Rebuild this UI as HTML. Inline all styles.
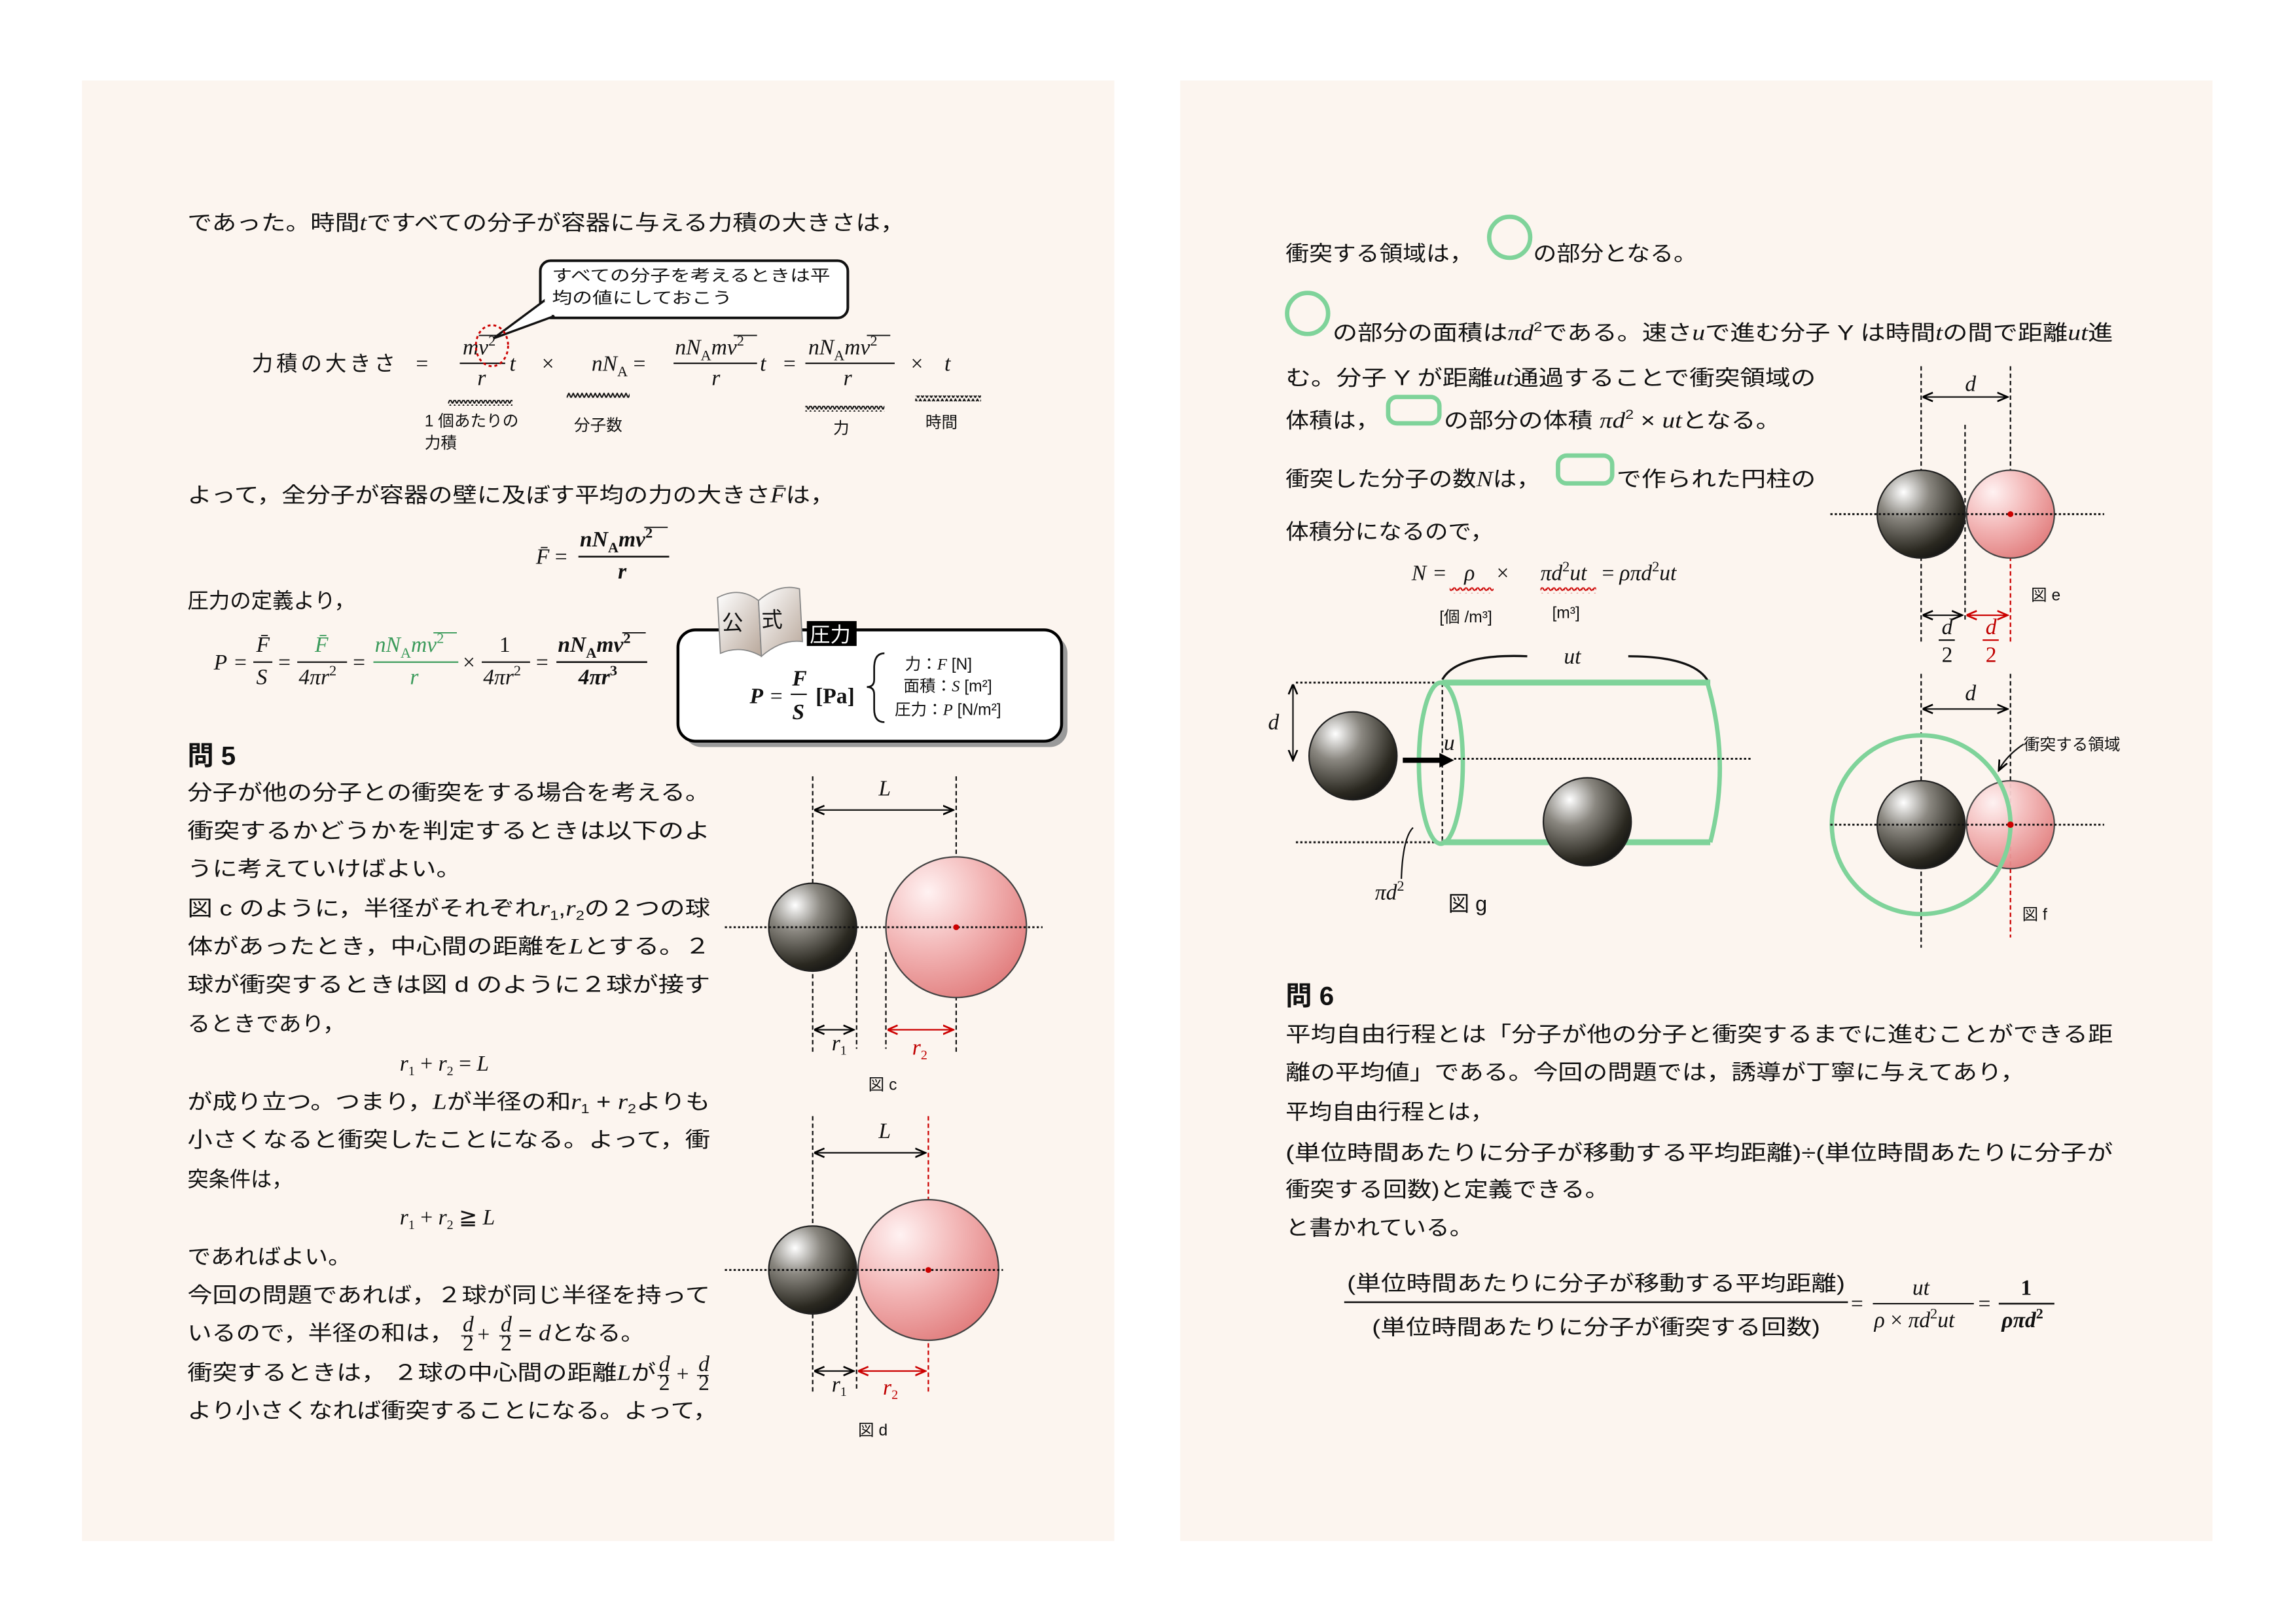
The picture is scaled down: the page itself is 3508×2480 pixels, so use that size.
<!DOCTYPE html>
<html><head><meta charset="utf-8"><style>
html,body{margin:0;padding:0;background:#fff;}
svg{display:block}
.j{font-family:"Liberation Sans","Noto Sans CJK JP",sans-serif;font-size:14.5px;fill:#111}
.s{font-family:"Liberation Sans","Noto Sans CJK JP",sans-serif;font-size:11px;fill:#111}
.m{font-family:"Liberation Serif",serif;font-style:italic;font-size:15px;fill:#111}
.mr{font-family:"Liberation Serif",serif;font-size:15px;fill:#111}
.b{font-weight:bold}
.g{fill:#3a9a5a}
.r{fill:#c00000}
.n{font-style:normal}
.h{font-family:"Liberation Sans","Noto Sans CJK JP",sans-serif;font-size:18px;font-weight:bold;fill:#111}
</style></head><body>
<svg width="3508" height="2480" viewBox="0 0 1568 1108" preserveAspectRatio="none" xmlns="http://www.w3.org/2000/svg" xml:space="preserve">
<defs>
<radialGradient id="dk" cx="0.3" cy="0.25" r="0.85">
<stop offset="0" stop-color="#ffffff"/><stop offset="0.35" stop-color="#8a8780"/><stop offset="0.8" stop-color="#2a2820"/><stop offset="1" stop-color="#111"/></radialGradient>
<radialGradient id="pk" cx="0.3" cy="0.25" r="0.85">
<stop offset="0" stop-color="#fff2f2"/><stop offset="0.5" stop-color="#f2b4b4"/><stop offset="1" stop-color="#e07a7a"/></radialGradient>
<linearGradient id="bk" x1="0" y1="0" x2="1" y2="1"><stop offset="0" stop-color="#fff"/><stop offset="1" stop-color="#b8a79a"/></linearGradient>
<marker id="a" markerWidth="8" markerHeight="8" refX="7" refY="4" orient="auto" markerUnits="userSpaceOnUse"><path d="M0,1 L7,4 L0,7" fill="none" stroke="#000" stroke-width="1.2"/></marker>
<marker id="ar" markerWidth="8" markerHeight="8" refX="7" refY="4" orient="auto" markerUnits="userSpaceOnUse"><path d="M0,1 L7,4 L0,7" fill="none" stroke="#c00" stroke-width="1.2"/></marker>
<marker id="as" markerWidth="8" markerHeight="8" refX="1" refY="4" orient="auto" markerUnits="userSpaceOnUse"><path d="M7,1 L0,4 L7,7" fill="none" stroke="#000" stroke-width="1.2"/></marker>
<marker id="asr" markerWidth="8" markerHeight="8" refX="1" refY="4" orient="auto" markerUnits="userSpaceOnUse"><path d="M7,1 L0,4 L7,7" fill="none" stroke="#c00" stroke-width="1.2"/></marker>
<pattern id="wv" width="3" height="4" patternUnits="userSpaceOnUse"><path d="M0,3.5 L1.5,0.5 L3,3.5" fill="none" stroke="#111" stroke-width="0.9"/></pattern>
<pattern id="wvr" width="4" height="4" patternUnits="userSpaceOnUse"><path d="M0,3 Q1,0 2,2 T4,2" fill="none" stroke="#c00" stroke-width="0.9"/></pattern>
</defs>
<rect width="1568" height="1108" fill="#fff"/>
<rect x="56" y="55" width="705" height="997" fill="#fcf5ef"/>
<rect x="806" y="55" width="705" height="997" fill="#fcf5ef"/>

<!-- LEFT PAGE -->
<text class="j" x="128" y="157" textLength="490" lengthAdjust="spacingAndGlyphs">であった。時間<tspan class="m">t</tspan>ですべての分子が容器に与える力積の大きさは，</text>

<rect x="369" y="178" width="210" height="39" rx="7" fill="#fff" stroke="#111" stroke-width="1.8"/>
<path d="M372,205 L337,231 L378,216 Z" fill="#fff" stroke="#111" stroke-width="1.5"/>
<rect x="372" y="203" width="10" height="12" fill="#fff"/>
<text class="s" x="377" y="192" textLength="190" lengthAdjust="spacingAndGlyphs">すべての分子を考えるときは平</text>
<text class="s" x="377" y="207" textLength="123" lengthAdjust="spacingAndGlyphs">均の値にしておこう</text>

<text class="j" x="172" y="253" textLength="98" lengthAdjust="spacing">力積の大きさ</text>
<text class="mr" x="284" y="253">=</text>
<text class="m" x="316" y="242">mv<tspan class="n" font-size="10" dy="-6">2</tspan></text>
<line x1="327" y1="229" x2="343" y2="229" stroke="#111" stroke-width="0.8"/>
<line x1="314" y1="248" x2="345" y2="248" stroke="#111" stroke-width="1"/>
<text class="m" x="326" y="263">r</text><text class="m" x="348" y="253">t</text>
<ellipse cx="336" cy="236" rx="11" ry="14" fill="none" stroke="#c00" stroke-width="1.3" stroke-dasharray="2,2"/>
<text class="mr" x="370" y="253">×</text>
<text class="m" x="404" y="253">nN<tspan font-size="10" class="n" dy="4">A</tspan><tspan class="n" dy="-4"> =</tspan></text>
<text class="m" x="461" y="242">nN<tspan font-size="10" class="n" dy="4">A</tspan><tspan dy="-4">mv</tspan><tspan class="n" font-size="10" dy="-6">2</tspan></text>
<line x1="501" y1="229" x2="517" y2="229" stroke="#111" stroke-width="0.8"/>
<line x1="460" y1="248" x2="517" y2="248" stroke="#111"/>
<text class="m" x="486" y="263">r</text><text class="m" x="519" y="253">t</text>
<text class="mr" x="535" y="253">=</text>
<text class="m" x="552" y="242">nN<tspan font-size="10" class="n" dy="4">A</tspan><tspan dy="-4">mv</tspan><tspan class="n" font-size="10" dy="-6">2</tspan></text>
<line x1="592" y1="229" x2="608" y2="229" stroke="#111" stroke-width="0.8"/>
<line x1="550" y1="248" x2="611" y2="248" stroke="#111"/>
<text class="m" x="576" y="263">r</text>
<text class="mr" x="622" y="253">×</text><text class="m" x="645" y="253">t</text>
<rect x="306" y="273" width="44" height="4" fill="url(#wv)"/>
<rect x="387" y="268" width="43" height="4" fill="url(#wv)"/>
<rect x="550" y="277" width="54" height="4" fill="url(#wv)"/>
<rect x="625" y="270" width="45" height="4" fill="url(#wv)"/>
<text class="s" x="290" y="291">1 個あたりの</text><text class="s" x="290" y="306">力積</text>
<text class="s" x="392" y="294">分子数</text><text class="s" x="569" y="296">力</text><text class="s" x="632" y="292">時間</text>

<text class="j" x="128" y="343" textLength="442" lengthAdjust="spacingAndGlyphs">よって，全分子が容器の壁に及ぼす平均の力の大きさ<tspan class="m">F̄</tspan>は，</text>

<text class="m" x="366" y="385">F̄ <tspan class="n">=</tspan></text>
<text class="m b" x="396" y="373">nN<tspan font-size="10" class="n" dy="4">A</tspan><tspan dy="-4">mv</tspan><tspan class="n" font-size="10" dy="-6">2</tspan></text>
<line x1="440" y1="360" x2="456" y2="360" stroke="#111" stroke-width="0.8"/>
<line x1="395" y1="380" x2="457" y2="380" stroke="#111" stroke-width="1.2"/>
<text class="m b" x="422" y="395">r</text>

<text class="j" x="128" y="415">圧力の定義より，</text>

<text class="m" x="146" y="457">P</text><text class="mr" x="160" y="457">=</text>
<text class="m" x="175" y="445">F̄</text><line x1="173" y1="452" x2="186" y2="452" stroke="#111"/><text class="m" x="175" y="467">S</text>
<text class="mr" x="190" y="457">=</text>
<text class="m g" x="215" y="445">F̄</text><line x1="203" y1="452" x2="237" y2="452" stroke="#111"/><text class="m" x="204" y="467">4πr<tspan class="n" font-size="10" dy="-6">2</tspan></text>
<text class="mr" x="241" y="457">=</text>
<text class="m g" x="256" y="445">nN<tspan font-size="10" class="n" dy="4">A</tspan><tspan dy="-4">mv</tspan><tspan class="n" font-size="10" dy="-6">2</tspan></text>
<line x1="296" y1="432" x2="312" y2="432" stroke="#3a9a5a" stroke-width="0.8"/>
<line x1="255" y1="452" x2="313" y2="452" stroke="#3a9a5a"/>
<text class="m g" x="280" y="467">r</text>
<text class="mr" x="316" y="457">×</text>
<text class="mr" x="341" y="445">1</text><line x1="329" y1="452" x2="362" y2="452" stroke="#111"/><text class="m" x="330" y="467">4πr<tspan class="n" font-size="10" dy="-6">2</tspan></text>
<text class="mr" x="366" y="457">=</text>
<text class="m b" x="381" y="445">nN<tspan font-size="10" class="n" dy="4">A</tspan><tspan dy="-4">mv</tspan><tspan class="n" font-size="10" dy="-6">2</tspan></text>
<line x1="425" y1="432" x2="441" y2="432" stroke="#111" stroke-width="0.8"/>
<line x1="380" y1="452" x2="442" y2="452" stroke="#111" stroke-width="1.2"/>
<text class="m b" x="395" y="467">4πr<tspan class="n" font-size="10" dy="-6">3</tspan></text>

<!-- formula box -->
<rect x="467" y="434" width="262" height="76" rx="12" fill="#9a9a9a"/>
<rect x="463" y="430" width="262" height="76" rx="12" fill="#fff" stroke="#000" stroke-width="2"/>
<path d="M490,408 Q505,400 518,410 L520,448 Q506,440 492,446 Z" fill="url(#bk)" stroke="#888" stroke-width="0.8"/>
<path d="M518,410 Q532,398 546,402 L548,438 Q534,436 520,448 Z" fill="url(#bk)" stroke="#888" stroke-width="0.8"/>
<text class="j" x="493" y="430" font-size="14">公</text><text class="j" x="520" y="428" font-size="14">式</text>
<rect x="551" y="424" width="34" height="17" fill="#000"/>
<text x="553" y="438" font-family="Liberation Sans,Noto Sans CJK JP,sans-serif" font-size="14" fill="#fff">圧力</text>
<text class="m b" x="512" y="480">P</text><text class="mr" x="526" y="480">=</text>
<text class="m b" x="541" y="468" font-size="13">F</text><line x1="540" y1="474" x2="551" y2="474" stroke="#111"/><text class="m b" x="541" y="491" font-size="13">S</text>
<text class="mr b" x="557" y="480">[Pa]</text>
<path d="M604,446 Q597,446 597,456 L597,464 Q597,469 592,469 Q597,469 597,474 L597,484 Q597,493 604,493" fill="none" stroke="#111" stroke-width="1.2"/>
<text class="s" x="618" y="457">力：<tspan font-family="Liberation Serif" font-style="italic">F</tspan> [N]</text>
<text class="s" x="617" y="472">面積：<tspan font-family="Liberation Serif" font-style="italic">S</tspan> [m²]</text>
<text class="s" x="611" y="488">圧力：<tspan font-family="Liberation Serif" font-style="italic">P</tspan> [N/m²]</text>

<text class="h" x="128" y="522">問 5</text>
<g class="j">
<text x="128" y="546" textLength="357" lengthAdjust="spacingAndGlyphs">分子が他の分子との衝突をする場合を考える。</text>
<text x="128" y="572" textLength="357" lengthAdjust="spacingAndGlyphs">衝突するかどうかを判定するときは以下のよ</text>
<text x="128" y="598" textLength="187" lengthAdjust="spacingAndGlyphs">うに考えていけばよい。</text>
<text x="128" y="625" textLength="357" lengthAdjust="spacingAndGlyphs">図 c のように，半径がそれぞれ<tspan class="m">r</tspan><tspan font-size="9" dy="3">1</tspan><tspan dy="-3">,</tspan><tspan class="m">r</tspan><tspan font-size="9" dy="3">2</tspan><tspan dy="-3">の２つの球</tspan></text>
<text x="128" y="651" textLength="357" lengthAdjust="spacingAndGlyphs">体があったとき，中心間の距離を<tspan class="m">L</tspan>とする。２</text>
<text x="128" y="677" textLength="357" lengthAdjust="spacingAndGlyphs">球が衝突するときは図 d のように２球が接す</text>
<text x="128" y="704" textLength="108" lengthAdjust="spacingAndGlyphs">るときであり，</text>
<text x="128" y="757" textLength="357" lengthAdjust="spacingAndGlyphs">が成り立つ。つまり，<tspan class="m">L</tspan>が半径の和<tspan class="m">r</tspan><tspan font-size="9" dy="3">1</tspan><tspan dy="-3"> + </tspan><tspan class="m">r</tspan><tspan font-size="9" dy="3">2</tspan><tspan dy="-3">よりも</tspan></text>
<text x="128" y="783" textLength="357" lengthAdjust="spacingAndGlyphs">小さくなると衝突したことになる。よって，衝</text>
<text x="128" y="810" textLength="72" lengthAdjust="spacingAndGlyphs">突条件は，</text>
<text x="128" y="863" textLength="112" lengthAdjust="spacingAndGlyphs">であればよい。</text>
<text x="128" y="889" textLength="357" lengthAdjust="spacingAndGlyphs">今回の問題であれば，２球が同じ半径を持って</text>
<text x="128" y="915" textLength="182" lengthAdjust="spacingAndGlyphs">いるので，半径の和は，</text>
<text x="354" y="915" textLength="86" lengthAdjust="spacingAndGlyphs">= <tspan class="m">d</tspan>となる。</text>
<text x="128" y="942" textLength="320" lengthAdjust="spacingAndGlyphs">衝突するときは， ２球の中心間の距離<tspan class="m">L</tspan>が</text>
<text x="128" y="968" textLength="362" lengthAdjust="spacingAndGlyphs">より小さくなれば衝突することになる。よって，</text>
</g>
<g class="m" font-size="10">
<text x="316" y="909">d</text><text x="316" y="922" class="n">2</text>
<text x="342" y="909">d</text><text x="342" y="922" class="n">2</text>
<text x="450" y="936">d</text><text x="450" y="949" class="n">2</text>
<text x="477" y="936">d</text><text x="477" y="949" class="n">2</text>
</g>
<g stroke="#111" stroke-width="0.7">
<line x1="315" y1="912" x2="323" y2="912"/><line x1="341" y1="912" x2="349" y2="912"/>
<line x1="449" y1="939" x2="457" y2="939"/><line x1="476" y1="939" x2="484" y2="939"/>
</g>
<text class="mr" x="326" y="916" font-size="13">+</text>
<text class="mr" x="462" y="943" font-size="13">+</text>
<text class="m" x="273" y="731">r<tspan font-size="9" class="n" dy="3">1</tspan><tspan class="n" dy="-3"> + </tspan>r<tspan font-size="9" class="n" dy="3">2</tspan><tspan class="n" dy="-3"> = </tspan>L</text>
<text class="m" x="273" y="836">r<tspan font-size="9" class="n" dy="3">1</tspan><tspan class="n" dy="-3"> + </tspan>r<tspan font-size="9" class="n" dy="3">2</tspan><tspan class="n" dy="-3"> ≧ </tspan>L</text>

<!-- fig c -->
<g stroke="#111" stroke-width="1" fill="none">
<line x1="555" y1="530" x2="555" y2="718" stroke-dasharray="3,2"/>
<line x1="653" y1="530" x2="653" y2="718" stroke-dasharray="3,2"/>
<line x1="585" y1="650" x2="585" y2="716" stroke-dasharray="3,2"/>
<line x1="605" y1="650" x2="605" y2="716" stroke-dasharray="3,2"/>
<line x1="557" y1="553" x2="651" y2="553" marker-end="url(#a)" marker-start="url(#as)"/>
<line x1="557" y1="703" x2="583" y2="703" marker-end="url(#a)" marker-start="url(#as)"/>
<line x1="607" y1="703" x2="651" y2="703" stroke="#c00" marker-end="url(#ar)" marker-start="url(#asr)"/>
</g>
<circle cx="555" cy="633" r="30" fill="url(#dk)" stroke="#222"/>
<circle cx="653" cy="633" r="48" fill="url(#pk)" stroke="#444"/>
<line x1="495" y1="633" x2="712" y2="633" stroke="#111" stroke-width="1.3" stroke-dasharray="1.5,1.5"/>
<circle cx="653" cy="633" r="2" fill="#c00"/>
<text class="m" x="600" y="543">L</text>
<text class="m" x="568" y="717">r<tspan font-size="9" class="n" dy="3">1</tspan></text>
<text class="m r" x="623" y="720">r<tspan font-size="9" class="n" dy="3">2</tspan></text>
<text class="s" x="593" y="744">図 c</text>

<!-- fig d -->
<g stroke="#111" stroke-width="1" fill="none">
<line x1="555" y1="762" x2="555" y2="952" stroke-dasharray="3,2"/>
<line x1="634" y1="762" x2="634" y2="952" stroke="#c00" stroke-dasharray="3,2"/>
<line x1="585" y1="885" x2="585" y2="950" stroke-dasharray="3,2"/>
<line x1="557" y1="787" x2="632" y2="787" marker-end="url(#a)" marker-start="url(#as)"/>
<line x1="557" y1="936" x2="583" y2="936" marker-end="url(#a)" marker-start="url(#as)"/>
<line x1="587" y1="936" x2="632" y2="936" stroke="#c00" marker-end="url(#ar)" marker-start="url(#asr)"/>
</g>
<circle cx="555" cy="867" r="30" fill="url(#dk)" stroke="#222"/>
<circle cx="634" cy="867" r="48" fill="url(#pk)" stroke="#444"/>
<line x1="495" y1="867" x2="685" y2="867" stroke="#111" stroke-width="1.3" stroke-dasharray="1.5,1.5"/>
<circle cx="634" cy="867" r="2" fill="#c00"/>
<text class="m" x="600" y="777">L</text>
<text class="m" x="568" y="950">r<tspan font-size="9" class="n" dy="3">1</tspan></text>
<text class="m r" x="603" y="952">r<tspan font-size="9" class="n" dy="3">2</tspan></text>
<text class="s" x="586" y="980">図 d</text>

<!-- RIGHT PAGE -->
<g class="j">
<text x="878" y="178" textLength="128" lengthAdjust="spacingAndGlyphs">衝突する領域は，</text>
<text x="1047" y="178" textLength="112" lengthAdjust="spacingAndGlyphs">の部分となる。</text>
<text x="910" y="232" textLength="533" lengthAdjust="spacingAndGlyphs">の部分の面積は<tspan class="m">πd</tspan><tspan font-size="9" dy="-6">2</tspan><tspan dy="6">である。速さ</tspan><tspan class="m">u</tspan>で進む分子 Y は時間<tspan class="m">t</tspan>の間で距離<tspan class="m">ut</tspan>進</text>
<text x="878" y="263" textLength="362" lengthAdjust="spacingAndGlyphs">む。分子 Y が距離<tspan class="m">ut</tspan>通過することで衝突領域の</text>
<text x="878" y="292" textLength="64" lengthAdjust="spacingAndGlyphs">体積は，</text>
<text x="986" y="292" textLength="230" lengthAdjust="spacingAndGlyphs">の部分の体積  <tspan class="m">πd</tspan><tspan font-size="9" dy="-6">2</tspan><tspan dy="6"> × </tspan><tspan class="m">ut</tspan>となる。</text>
<text x="878" y="332" textLength="174" lengthAdjust="spacingAndGlyphs">衝突した分子の数<tspan class="m">N</tspan>は，</text>
<text x="1104" y="332" textLength="136" lengthAdjust="spacingAndGlyphs">で作られた円柱の</text>
<text x="878" y="368" textLength="142" lengthAdjust="spacingAndGlyphs">体積分になるので，</text>
</g>
<circle cx="1031" cy="162" r="14" fill="none" stroke="#7fd39a" stroke-width="3"/>
<circle cx="893" cy="214" r="14" fill="none" stroke="#7fd39a" stroke-width="3"/>
<rect x="948" y="271" width="35" height="18" rx="6" fill="none" stroke="#7fd39a" stroke-width="3"/>
<rect x="1064" y="311" width="37" height="19" rx="6" fill="none" stroke="#7fd39a" stroke-width="3"/>

<text class="m" x="964" y="396">N</text><text class="mr" x="979" y="396">=</text>
<text class="m" x="1000" y="396">ρ</text><text class="mr" x="1022" y="396">×</text>
<text class="m" x="1052" y="396">πd<tspan class="n" font-size="10" dy="-6">2</tspan><tspan dy="6">ut</tspan></text>
<text class="mr" x="1094" y="396">=</text>
<text class="m" x="1106" y="396">ρπd<tspan class="n" font-size="10" dy="-6">2</tspan><tspan dy="6">ut</tspan></text>
<rect x="990" y="401" width="30" height="4" fill="url(#wvr)"/>
<rect x="1052" y="401" width="38" height="4" fill="url(#wvr)"/>
<text class="s" x="983" y="425">[個 /m³]</text><text class="s" x="1060" y="422">[m³]</text>

<!-- fig e -->
<g stroke="#111" stroke-width="1" fill="none">
<line x1="1312" y1="250" x2="1312" y2="440" stroke-dasharray="3,2"/>
<line x1="1373" y1="250" x2="1373" y2="350" stroke-dasharray="3,2"/>
<line x1="1373" y1="350" x2="1373" y2="440" stroke="#c00" stroke-dasharray="3,2"/>
<line x1="1342" y1="290" x2="1342" y2="425" stroke-dasharray="3,2"/>
<line x1="1314" y1="271" x2="1371" y2="271" marker-end="url(#a)" marker-start="url(#as)"/>
<line x1="1314" y1="420" x2="1340" y2="420" marker-end="url(#a)" marker-start="url(#as)"/>
<line x1="1344" y1="420" x2="1371" y2="420" stroke="#c00" marker-end="url(#ar)" marker-start="url(#asr)"/>
</g>
<circle cx="1312" cy="351" r="30" fill="url(#dk)" stroke="#222"/>
<circle cx="1373" cy="351" r="30" fill="url(#pk)" stroke="#444"/>
<line x1="1250" y1="351" x2="1437" y2="351" stroke="#111" stroke-width="1.3" stroke-dasharray="1.5,1.5"/>
<circle cx="1373" cy="351" r="2" fill="#c00"/>
<text class="m" x="1342" y="267">d</text>
<text class="m" x="1326" y="433">d</text><line x1="1324" y1="437" x2="1335" y2="437" stroke="#111"/><text class="m n" x="1326" y="452">2</text>
<text class="m r" x="1356" y="433">d</text><line x1="1354" y1="437" x2="1365" y2="437" stroke="#c00"/><text class="m r n" x="1356" y="452">2</text>
<text class="s" x="1387" y="410">図 e</text>

<!-- fig g -->
<g stroke="#111" fill="none">
<line x1="885" y1="466" x2="985" y2="466" stroke-width="1.3" stroke-dasharray="1.5,1.5"/>
<line x1="885" y1="575" x2="985" y2="575" stroke-width="1.3" stroke-dasharray="1.5,1.5"/>
<line x1="883" y1="468" x2="883" y2="519" marker-end="url(#a)" marker-start="url(#as)"/>
<line x1="985" y1="466" x2="985" y2="575" stroke-dasharray="3,2"/>
<path d="M985,464 Q995,446 1043,448" stroke-width="1.5"/>
<path d="M1112,448 Q1158,448 1167,466" stroke-width="1.5"/>
<path d="M965,565 Q958,572 957,600" stroke-width="1"/>
</g>
<circle cx="924" cy="516" r="30" fill="url(#dk)" stroke="#222"/>
<line x1="985" y1="466" x2="1168" y2="466" stroke="#7fd39a" stroke-width="4"/>
<line x1="985" y1="575" x2="1168" y2="575" stroke="#7fd39a" stroke-width="4"/>
<ellipse cx="984" cy="521" rx="15" ry="55" fill="none" stroke="#7fd39a" stroke-width="3"/>
<path d="M1166,466 Q1182,521 1168,575" fill="none" stroke="#7fd39a" stroke-width="3"/>
<line x1="993" y1="518" x2="1197" y2="518" stroke="#111" stroke-width="1.3" stroke-dasharray="1.5,1.5"/>
<circle cx="1084" cy="561" r="30" fill="url(#dk)" stroke="#222"/>
<line x1="958" y1="519" x2="985" y2="519" stroke="#000" stroke-width="3.5"/>
<path d="M983,514 L993,519 L983,524 Z" fill="#000"/>
<text class="m" x="866" y="498">d</text>
<text class="m" x="986" y="512">u</text>
<text class="m" x="1068" y="453">ut</text>
<text class="m" x="939" y="614">πd<tspan font-size="10" class="n" dy="-6">2</tspan></text>
<text class="j" x="989" y="622" font-size="13">図 g</text>

<!-- fig f -->
<g stroke="#111" stroke-width="1" fill="none">
<line x1="1312" y1="460" x2="1312" y2="647" stroke-dasharray="3,2"/>
<line x1="1373" y1="460" x2="1373" y2="563" stroke-dasharray="3,2"/>
<line x1="1373" y1="563" x2="1373" y2="640" stroke="#c00" stroke-dasharray="3,2"/>
<line x1="1314" y1="484" x2="1371" y2="484" marker-end="url(#a)" marker-start="url(#as)"/>
<path d="M1382,508 Q1370,516 1365,526" marker-end="url(#a)"/>
</g>
<circle cx="1312" cy="563" r="30" fill="url(#dk)" stroke="#222"/>
<circle cx="1373" cy="563" r="30" fill="url(#pk)" stroke="#444" opacity="0.95"/>
<circle cx="1312" cy="563" r="61" fill="none" stroke="#7fd39a" stroke-width="3"/>
<line x1="1250" y1="563" x2="1437" y2="563" stroke="#111" stroke-width="1.3" stroke-dasharray="1.5,1.5"/>
<circle cx="1373" cy="563" r="2.2" fill="#c00"/>
<text class="m" x="1342" y="478">d</text>
<text class="s" x="1382" y="512">衝突する領域</text>
<text class="s" x="1381" y="628">図 f</text>

<text class="h" x="878" y="686">問 6</text>
<g class="j">
<text x="878" y="711" textLength="565" lengthAdjust="spacingAndGlyphs">平均自由行程とは「分子が他の分子と衝突するまでに進むことができる距</text>
<text x="878" y="737" textLength="505" lengthAdjust="spacingAndGlyphs">離の平均値」である。今回の問題では，誘導が丁寧に与えてあり，</text>
<text x="878" y="764" textLength="142" lengthAdjust="spacingAndGlyphs">平均自由行程とは，</text>
<text x="878" y="792" textLength="565" lengthAdjust="spacingAndGlyphs">(単位時間あたりに分子が移動する平均距離)÷(単位時間あたりに分子が</text>
<text x="878" y="817" textLength="221" lengthAdjust="spacingAndGlyphs">衝突する回数)と定義できる。</text>
<text x="878" y="843" textLength="128" lengthAdjust="spacingAndGlyphs">と書かれている。</text>
<text x="920" y="881" textLength="340" lengthAdjust="spacingAndGlyphs">(単位時間あたりに分子が移動する平均距離)</text>
<text x="937" y="911" textLength="306" lengthAdjust="spacingAndGlyphs">(単位時間あたりに分子が衝突する回数)</text>
</g>
<line x1="918" y1="889" x2="1262" y2="889" stroke="#111" stroke-width="1.2"/>
<text class="mr" x="1264" y="895">=</text>
<text class="m" x="1306" y="884">ut</text><line x1="1279" y1="890" x2="1348" y2="890" stroke="#111"/>
<text class="m" x="1280" y="906">ρ <tspan class="n">×</tspan> πd<tspan font-size="10" dy="-6" class="n">2</tspan><tspan dy="6">ut</tspan></text>
<text class="mr" x="1351" y="895">=</text>
<text class="mr b" x="1380" y="884">1</text><line x1="1365" y1="890" x2="1403" y2="890" stroke="#111" stroke-width="1.2"/>
<text class="m b" x="1367" y="906">ρπd<tspan font-size="10" dy="-6" class="n">2</tspan></text>
</svg>
</body></html>
